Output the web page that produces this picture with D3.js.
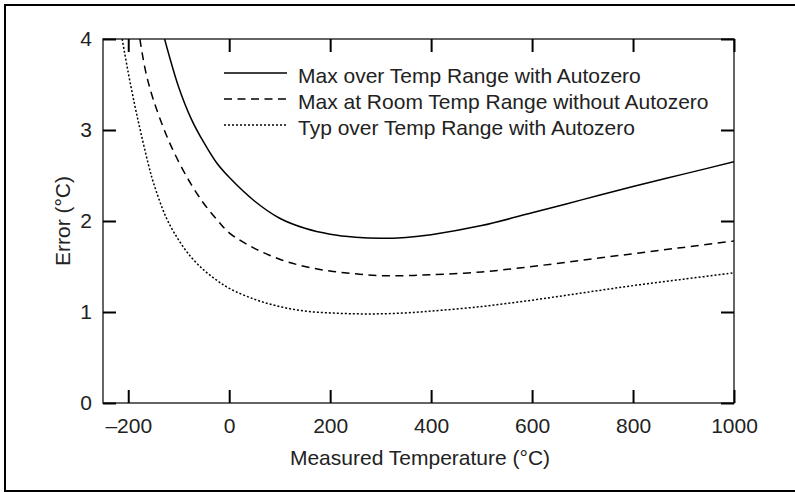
<!DOCTYPE html>
<html>
<head>
<meta charset="utf-8">
<script src="https://cdn.jsdelivr.net/npm/d3@7"></script>
<style>
  body { margin: 0; background: #fff; }
  text { font-family: "Liberation Sans", Arial, sans-serif; fill: #222; }
</style>
</head>
<body>
<div id="chart"></div>
<script>
// readings, temperature in degC, error in degC
const maxTempX = [-128, -100, -75, -50, -25, 0, 50, 100, 150, 200, 250, 300, 350, 400, 500, 600, 700, 800, 900, 1000];
const maxTempY = [4.0, 3.47, 3.12, 2.86, 2.64, 2.48, 2.22, 2.03, 1.92, 1.855, 1.822, 1.81, 1.82, 1.85, 1.95, 2.09, 2.235, 2.38, 2.515, 2.65];

const maxRoomX = [-177, -165, -150, -125, -100, -75, -50, -25, 0, 50, 100, 150, 200, 250, 300, 350, 400, 500, 600, 700, 800, 900, 1000];
const maxRoomY = [4.0, 3.63, 3.33, 2.95, 2.65, 2.40, 2.19, 2.02, 1.87, 1.70, 1.58, 1.50, 1.45, 1.42, 1.40, 1.40, 1.41, 1.44, 1.50, 1.57, 1.64, 1.71, 1.78];

const typTempX = [-212, -200, -187, -175, -160, -150, -125, -100, -75, -50, -25, 0, 50, 100, 150, 200, 250, 300, 350, 400, 500, 600, 700, 800, 900, 1000];
const typTempY = [4.0, 3.63, 3.27, 2.97, 2.62, 2.42, 2.04, 1.79, 1.60, 1.46, 1.35, 1.26, 1.14, 1.06, 1.01, 0.99, 0.98, 0.98, 0.99, 1.01, 1.06, 1.13, 1.21, 1.29, 1.36, 1.43];

const legendLabels = [
  "Max over Temp Range with Autozero",
  "Max at Room Temp Range without Autozero",
  "Typ over Temp Range with Autozero"
];
const xTicks = [-200, 0, 200, 400, 600, 800, 1000];
const yTicks = [0, 1, 2, 3, 4];

const series = [
  { name: legendLabels[0], xs: maxTempX, ys: maxTempY, dash: null },
  { name: legendLabels[1], xs: maxRoomX, ys: maxRoomY, dash: "8,5.5" },
  { name: legendLabels[2], xs: typTempX, ys: typTempY, dash: "2,2" }
];

const W = 795, H = 492;
const margin = { top: 39, right: 61, bottom: 89, left: 103 };
const plotW = W - margin.left - margin.right;
const plotH = H - margin.top - margin.bottom;
const tickLen = 13;
const fontSize = "21px";

const svg = d3.select("#chart").append("svg")
    .attr("width", W)
    .attr("height", H);

// outer frame (right edge runs off the picture)
svg.append("rect")
    .attr("x", 5).attr("y", 5)
    .attr("width", W + 10).attr("height", 486)
    .attr("fill", "none")
    .attr("stroke", "#000")
    .attr("stroke-width", 2);

const xs = d3.scaleLinear().domain([-250, 1000]).range([margin.left, margin.left + plotW]);
const ys = d3.scaleLinear().domain([0, 4]).range([margin.top + plotH, margin.top]);

// plot box
svg.append("rect")
    .attr("x", margin.left).attr("y", margin.top)
    .attr("width", plotW).attr("height", plotH)
    .attr("fill", "none")
    .attr("stroke", "#333")
    .attr("stroke-width", 1.5);

// bottom and top axes: ticks point into the plot
svg.append("g")
    .attr("transform", "translate(0," + (margin.top + plotH) + ")")
    .call(d3.axisTop(xs).tickValues(xTicks).tickSizeInner(tickLen).tickSizeOuter(0).tickFormat(""))
    .call(a => a.select(".domain").remove());

svg.append("g")
    .attr("transform", "translate(0," + margin.top + ")")
    .call(d3.axisBottom(xs).tickValues(xTicks).tickSizeInner(tickLen).tickSizeOuter(0).tickFormat(""))
    .call(a => a.select(".domain").remove());

svg.append("g")
    .attr("transform", "translate(" + margin.left + ",0)")
    .call(d3.axisRight(ys).tickValues(yTicks).tickSizeInner(tickLen).tickSizeOuter(0).tickFormat(""))
    .call(a => a.select(".domain").remove());

svg.append("g")
    .attr("transform", "translate(" + (margin.left + plotW) + ",0)")
    .call(d3.axisLeft(ys).tickValues(yTicks).tickSizeInner(tickLen).tickSizeOuter(0).tickFormat(""))
    .call(a => a.select(".domain").remove());

svg.selectAll(".tick line")
    .attr("stroke", "#000")
    .attr("stroke-width", 2);

// tick labels
const xLab = svg.append("g")
    .attr("transform", "translate(0," + (margin.top + plotH) + ")")
    .call(d3.axisBottom(xs).tickValues(xTicks).tickSize(0).tickPadding(15)
      .tickFormat(d => d < 0 ? "\u2013" + Math.abs(d) : String(d)));

const yLab = svg.append("g")
    .attr("transform", "translate(" + margin.left + ",0)")
    .call(d3.axisLeft(ys).tickValues(yTicks).tickSize(0).tickPadding(11)
      .tickFormat(d3.format("d")));

[xLab, yLab].forEach(a => {
  a.select(".domain").remove();
  a.selectAll("text").style("font-size", fontSize).attr("fill", "#222");
});

svg.append("clipPath").attr("id", "plot")
  .append("rect")
    .attr("x", margin.left).attr("y", margin.top)
    .attr("width", plotW).attr("height", plotH);

const line = d3.line()
    .x(d => xs(d[0]))
    .y(d => ys(d[1]))
    .curve(d3.curveCatmullRom.alpha(0.5));

svg.append("g").attr("clip-path", "url(#plot)")
  .selectAll("path")
  .data(series)
  .enter()
  .append("path")
    .attr("d", s => line(d3.zip(s.xs, s.ys)))
    .attr("fill", "none")
    .attr("stroke", "#000")
    .attr("stroke-width", 1.5)
    .attr("stroke-dasharray", s => s.dash);

// legend
const legend = svg.append("g").attr("transform", "translate(224,73)");
const rows = legend.selectAll("g")
    .data(series)
    .enter()
    .append("g")
    .attr("transform", (d, i) => "translate(0," + i * 26 + ")");

rows.append("line")
    .attr("x1", 0).attr("x2", 63)
    .attr("stroke", "#000")
    .attr("stroke-width", 1.5)
    .attr("stroke-dasharray", d => d.dash);

rows.append("text")
    .attr("x", 74)
    .attr("dy", "0.49em")
    .style("font-size", fontSize)
    .text(d => d.name);

// axis titles
svg.append("text")
    .attr("x", xs(378))
    .attr("y", 465)
    .attr("text-anchor", "middle")
    .style("font-size", fontSize)
    .text("Measured Temperature (\u00b0C)");

svg.append("text")
    .attr("transform", "translate(70," + ys(2) + ") rotate(-90)")
    .attr("text-anchor", "middle")
    .style("font-size", fontSize)
    .text("Error (\u00b0C)");
</script>
</body>
</html>
